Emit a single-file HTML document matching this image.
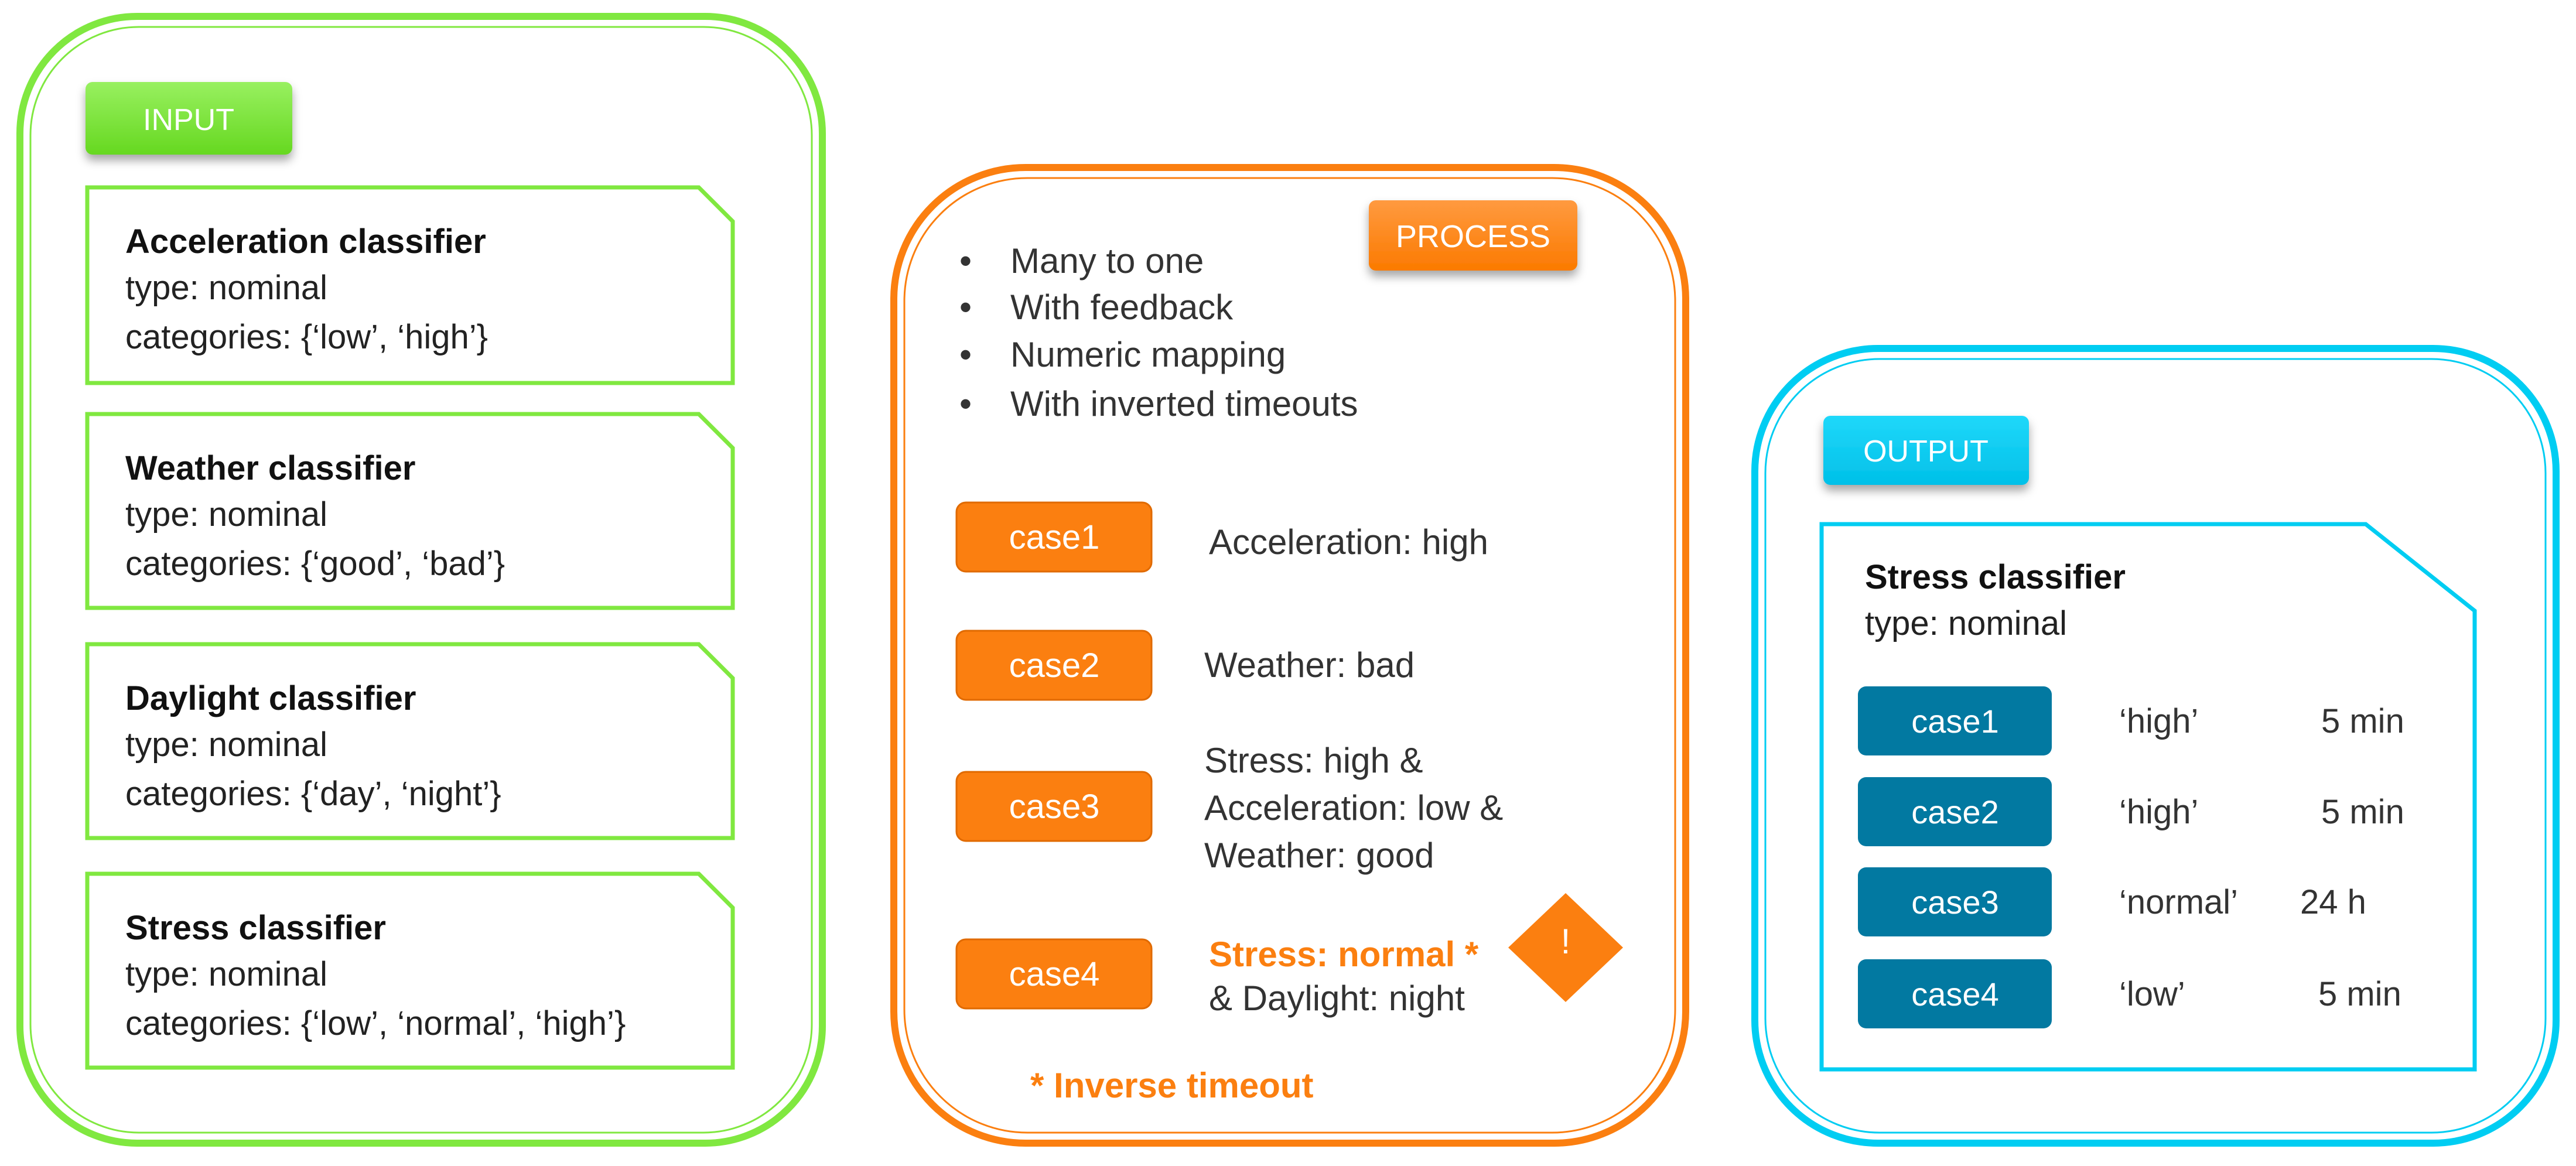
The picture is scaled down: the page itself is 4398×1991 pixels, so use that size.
<!DOCTYPE html>
<html><head><meta charset="utf-8"><style>
html,body{margin:0;padding:0;background:#fff;}
svg{display:block;}
text{font-family:"Liberation Sans",sans-serif;}
</style></head><body>
<svg width="4398" height="1991" viewBox="0 0 4398 1991" xmlns="http://www.w3.org/2000/svg">
<defs>
<linearGradient id="gG" x1="0" y1="0" x2="0" y2="1"><stop offset="0" stop-color="#98f060"/><stop offset="1" stop-color="#66d820"/></linearGradient>
<linearGradient id="gO" x1="0" y1="0" x2="0" y2="1"><stop offset="0" stop-color="#ff9a40"/><stop offset="1" stop-color="#fb7a00"/></linearGradient>
<linearGradient id="gC" x1="0" y1="0" x2="0" y2="1"><stop offset="0" stop-color="#20d8fa"/><stop offset="1" stop-color="#00c0e8"/></linearGradient>
<filter id="sh" x="-10%" y="-10%" width="130%" height="140%"><feDropShadow dx="0" dy="10" stdDeviation="8" flood-color="#000" flood-opacity="0.35"/></filter>
</defs>

<!-- INPUT -->
<rect x="34" y="28" width="1370" height="1924" rx="200" fill="none" stroke="#80e840" stroke-width="12"/>
<rect x="52" y="46" width="1334" height="1888" rx="185" fill="none" stroke="#80e840" stroke-width="3"/>
<rect x="146" y="140" width="353" height="124" rx="12" fill="url(#gG)" filter="url(#sh)"/>
<text x="322" y="222" font-size="52" fill="#fff" text-anchor="middle">INPUT</text>

<g fill="none" stroke="#80e840" stroke-width="7">
<polygon points="149,320 1193,320 1251,378 1251,654 149,654"/>
<polygon points="149,707 1193,707 1251,765 1251,1038 149,1038"/>
<polygon points="149,1100 1193,1100 1251,1158 1251,1431 149,1431"/>
<polygon points="149,1492 1193,1492 1251,1550 1251,1823 149,1823"/>
</g>
<g font-size="58" fill="#222">
<text x="214" y="432" font-weight="bold" fill="#111">Acceleration classifier</text>
<text x="214" y="511">type: nominal</text>
<text x="214" y="595">categories: {‘low’, ‘high’}</text>
<text x="214" y="819" font-weight="bold" fill="#111">Weather classifier</text>
<text x="214" y="898">type: nominal</text>
<text x="214" y="982">categories: {‘good’, ‘bad’}</text>
<text x="214" y="1212" font-weight="bold" fill="#111">Daylight classifier</text>
<text x="214" y="1291">type: nominal</text>
<text x="214" y="1375">categories: {‘day’, ‘night’}</text>
<text x="214" y="1604" font-weight="bold" fill="#111">Stress classifier</text>
<text x="214" y="1683">type: nominal</text>
<text x="214" y="1767">categories: {‘low’, ‘normal’, ‘high’}</text>
</g>

<!-- PROCESS -->
<rect x="1526" y="286" width="1352" height="1666" rx="225" fill="none" stroke="#fb7f10" stroke-width="12"/>
<rect x="1544" y="304" width="1316" height="1630" rx="210" fill="none" stroke="#fb7f10" stroke-width="3"/>
<rect x="2337" y="342" width="356" height="120" rx="12" fill="url(#gO)" filter="url(#sh)"/>
<text x="2515" y="422" font-size="54" fill="#fff" text-anchor="middle">PROCESS</text>
<g font-size="60" fill="#333">
<text x="1638" y="466">•</text><text x="1725" y="466">Many to one</text>
<text x="1638" y="545">•</text><text x="1725" y="545">With feedback</text>
<text x="1638" y="626">•</text><text x="1725" y="626">Numeric mapping</text>
<text x="1638" y="710">•</text><text x="1725" y="710">With inverted timeouts</text>
</g>
<g fill="#fb7f10" stroke="#e06a00" stroke-width="3">
<rect x="1633" y="858" width="333" height="118" rx="16"/>
<rect x="1633" y="1077" width="333" height="118" rx="16"/>
<rect x="1633" y="1318" width="333" height="118" rx="16"/>
<rect x="1633" y="1604" width="333" height="118" rx="16"/>
</g>
<g font-size="58" fill="#fff" text-anchor="middle">
<text x="1800" y="937">case1</text>
<text x="1800" y="1156">case2</text>
<text x="1800" y="1397">case3</text>
<text x="1800" y="1683">case4</text>
</g>
<g font-size="60" fill="#333">
<text x="2064" y="946">Acceleration: high</text>
<text x="2056" y="1156">Weather: bad</text>
<text x="2056" y="1319">Stress: high &amp;</text>
<text x="2056" y="1400">Acceleration: low &amp;</text>
<text x="2056" y="1481">Weather: good</text>
<text x="2064" y="1650" fill="#fb7f10" font-weight="bold">Stress: normal *</text>
<text x="2064" y="1725">&amp; Daylight: night</text>
<text x="1759" y="1874" fill="#fb7f10" font-weight="bold">* Inverse timeout</text>
</g>
<polygon points="2673,1525 2771,1618 2673,1711 2575,1618" fill="#fb7f10"/>
<text x="2673" y="1628" font-size="60" fill="#fff" text-anchor="middle">!</text>

<!-- OUTPUT -->
<rect x="2996" y="595" width="1368" height="1357" rx="210" fill="none" stroke="#00cdf2" stroke-width="12"/>
<rect x="3014" y="613" width="1332" height="1321" rx="195" fill="none" stroke="#00cdf2" stroke-width="3"/>
<rect x="3113" y="710" width="351" height="118" rx="12" fill="url(#gC)" filter="url(#sh)"/>
<text x="3288" y="788" font-size="52" fill="#fff" text-anchor="middle">OUTPUT</text>
<polygon points="3110,895 4039,895 4225,1043 4225,1826 3110,1826" fill="none" stroke="#00cdf2" stroke-width="7"/>
<text x="3184" y="1005" font-size="58" font-weight="bold" fill="#111">Stress classifier</text>
<text x="3184" y="1084" font-size="58" fill="#222">type: nominal</text>
<g fill="#0279a1">
<rect x="3172" y="1172" width="331" height="118" rx="14"/>
<rect x="3172" y="1327" width="331" height="118" rx="14"/>
<rect x="3172" y="1481" width="331" height="118" rx="14"/>
<rect x="3172" y="1638" width="331" height="118" rx="14"/>
</g>
<g font-size="56" fill="#fff" text-anchor="middle">
<text x="3338" y="1251">case1</text>
<text x="3338" y="1406">case2</text>
<text x="3338" y="1560">case3</text>
<text x="3338" y="1717">case4</text>
</g>
<g font-size="58" fill="#333">
<text x="3618" y="1251">‘high’</text><text x="3963" y="1251">5 min</text>
<text x="3618" y="1406">‘high’</text><text x="3963" y="1406">5 min</text>
<text x="3618" y="1560">‘normal’</text><text x="3927" y="1560">24 h</text>
<text x="3618" y="1717">‘low’</text><text x="3958" y="1717">5 min</text>
</g>
</svg>
</body></html>
